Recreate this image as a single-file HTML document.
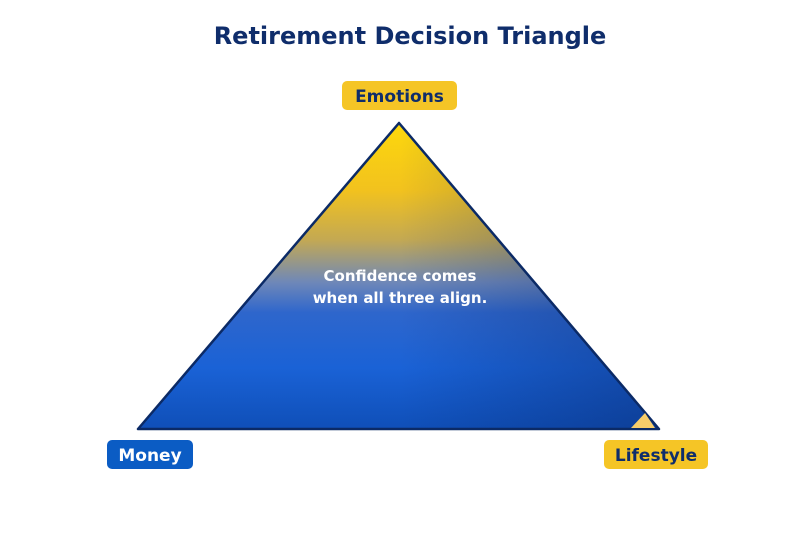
<!DOCTYPE html>
<html><head><meta charset="utf-8"><style>
html,body{margin:0;padding:0;background:#fff;}
svg{display:block;font-family:"DejaVu Sans","Liberation Sans",sans-serif;}
</style></head><body>
<svg width="800" height="533" viewBox="0 0 800 533" xmlns="http://www.w3.org/2000/svg">
<defs>
<linearGradient id="g" x1="0" y1="123" x2="0" y2="429" gradientUnits="userSpaceOnUse">
<stop offset="0" stop-color="#fdd80c"/>
<stop offset="0.22" stop-color="#f2c21e"/>
<stop offset="0.38" stop-color="#c4a952"/>
<stop offset="0.52" stop-color="#6f88b8"/>
<stop offset="0.62" stop-color="#2e66cc"/>
<stop offset="0.8" stop-color="#1a62d6"/>
<stop offset="1" stop-color="#0f4fb8"/>
</linearGradient>
<linearGradient id="d" x1="400" y1="0" x2="660" y2="0" gradientUnits="userSpaceOnUse">
<stop offset="0" stop-color="#0a2a70" stop-opacity="0"/>
<stop offset="1" stop-color="#0a2a70" stop-opacity="0.45"/>
</linearGradient>
</defs>
<text x="410" y="44" text-anchor="middle" font-size="24" font-weight="bold" fill="#0f2d6b">Retirement Decision Triangle</text>
<polygon points="399,123 138,429 659,429" fill="url(#g)"/>
<polygon points="399,123 138,429 659,429" fill="url(#d)" stroke="#0b2a66" stroke-width="2.5" stroke-linejoin="round"/>
<polygon points="631,428 645,413 655,428" fill="#f7cd6a"/>
<text x="400" y="281" text-anchor="middle" font-size="15" font-weight="bold" fill="#fff">Confidence comes</text>
<text x="400" y="303" text-anchor="middle" font-size="15" font-weight="bold" fill="#fff">when all three align.</text>
<rect x="342" y="81" width="115" height="29" rx="5" fill="#f5c526"/>
<text x="399.5" y="102" text-anchor="middle" font-size="17" font-weight="bold" fill="#0f2d6b">Emotions</text>
<rect x="107" y="440" width="86" height="29" rx="5" fill="#0b5cc4"/>
<text x="150" y="461" text-anchor="middle" font-size="17" font-weight="bold" fill="#fff">Money</text>
<rect x="604" y="440" width="104" height="29" rx="5" fill="#f5c526"/>
<text x="656" y="461" text-anchor="middle" font-size="17" font-weight="bold" fill="#0f2d6b">Lifestyle</text>
</svg>
</body></html>
